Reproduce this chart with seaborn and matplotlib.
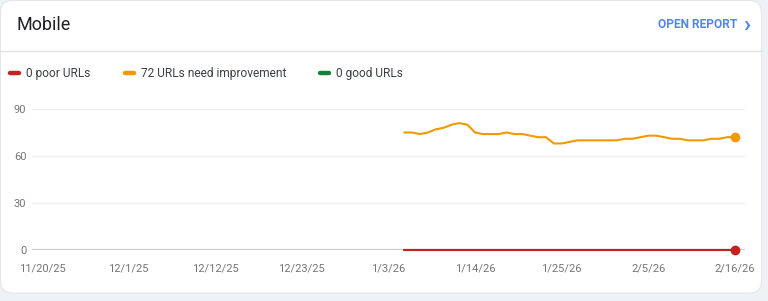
import numpy as np
import pandas as pd
import matplotlib
matplotlib.use("Agg")
import matplotlib.pyplot as plt
import matplotlib.dates as mdates
from matplotlib.patches import FancyBboxPatch
from matplotlib.lines import Line2D
import seaborn as sns

# ---- data ----
title = "Mobile"
link_text = "OPEN REPORT"
legend_labels = ["0 poor URLs", "72 URLs need improvement", "0 good URLs"]
dates = pd.date_range("2026-01-05", "2026-02-16", freq="D")
need_improvement = [75, 75, 74, 75, 77, 78, 80, 81, 80, 75,
                    74, 74, 74, 75, 74, 74, 73, 72, 72, 68,
                    68, 69, 70, 70, 70, 70, 70, 70, 71, 71,
                    72, 73, 73, 72, 71, 71, 70, 70, 70, 71,
                    71, 72, 72]
poor = [0, 0, 0, 0, 0, 0, 0, 0, 0, 0,
        0, 0, 0, 0, 0, 0, 0, 0, 0, 0,
        0, 0, 0, 0, 0, 0, 0, 0, 0, 0,
        0, 0, 0, 0, 0, 0, 0, 0, 0, 0,
        0, 0, 0]
good = [0, 0, 0, 0, 0, 0, 0, 0, 0, 0,
        0, 0, 0, 0, 0, 0, 0, 0, 0, 0,
        0, 0, 0, 0, 0, 0, 0, 0, 0, 0,
        0, 0, 0, 0, 0, 0, 0, 0, 0, 0,
        0, 0, 0]
tick_dates = ["2025-11-20", "2025-12-01", "2025-12-12", "2025-12-23",
              "2026-01-03", "2026-01-14", "2026-01-25", "2026-02-05", "2026-02-16"]
y_ticks = [0, 30, 60, 90]

# ---- style ----
sns.set_theme(style="white")
plt.rcParams["font.family"] = ["Roboto", "DejaVu Sans"]

RED = "#c5221f"
ORANGE = "#f29900"
GREEN = "#188038"
W, H = 768, 301

fig = plt.figure(figsize=(W / 100, H / 100), dpi=100)
fig.patch.set_facecolor("#eef1f6")

card = FancyBboxPatch((0.5, H - 293), 761, 292.5, boxstyle="round,pad=0,rounding_size=12",
                      transform=None, facecolor="white", edgecolor="#e3e6ea",
                      linewidth=0.8, zorder=-10)
fig.patches.append(card)

def fx(px):
    return px / W

def fy(py):
    return 1 - py / H

fig.text(fx(16), fy(25), title, fontsize=13, color="#202124", va="center", ha="left")
fig.text(fx(737), fy(25), link_text, fontsize=8.6, color="#4f86ec", va="center",
         ha="right", fontweight="bold")
fig.text(fx(747), fy(24.5), "\u203a", fontsize=17, color="#4f86ec", va="center",
         ha="center", fontweight="bold")
fig.add_artist(Line2D([0, fx(762)], [fy(51), fy(51)], color="#e2e2e2", lw=1.0))

# legend
leg_items = [(10, legend_labels[0], RED), (125, legend_labels[1], ORANGE),
             (320, legend_labels[2], GREEN)]
for x0, lab, col in leg_items:
    fig.add_artist(Line2D([fx(x0), fx(x0 + 9)], [fy(73), fy(73)], color=col, lw=3.2,
                          solid_capstyle="round"))
    fig.text(fx(x0 + 16), fy(73), lab, fontsize=8.6, color="#3c4043", va="center", ha="left")

# axes
ax = fig.add_axes([fx(32), fy(250), fx(745) - fx(32), fy(109) - fy(250)])
ax.set_facecolor("none")
ax.set_zorder(1)

df = pd.DataFrame({"date": dates, "need": need_improvement, "poor": poor, "good": good})
sns.lineplot(data=df, x="date", y="good", color=GREEN, lw=1.5, ax=ax, zorder=3)
sns.lineplot(data=df, x="date", y="need", color=ORANGE, lw=1.5, ax=ax, zorder=4)
sns.lineplot(data=df, x="date", y="poor", color=RED, lw=1.5, ax=ax, zorder=5)
ax.plot(df["date"].iloc[-1], df["need"].iloc[-1], "o", color=ORANGE, ms=6, zorder=6, clip_on=False)
ax.plot(df["date"].iloc[-1], df["poor"].iloc[-1], "o", color=RED, ms=6, zorder=6, clip_on=False)
for ln in ax.lines:
    ln.set_clip_on(False)

tds = pd.to_datetime(tick_dates)
ax.set_xlim(tds[0] - pd.Timedelta(hours=30.5), tds[-1] + pd.Timedelta(hours=30.5))
ax.set_ylim(0, 90)
ax.set_xticks(tds)
ax.set_xticklabels([f"{d.month}/{d.day}/{d.strftime('%y')}" for d in tds])
ax.set_yticks(y_ticks)
ax.set_yticklabels([str(v) for v in y_ticks])
ax.tick_params(axis="both", length=0, labelsize=8, labelcolor="#757575")
ax.tick_params(axis="x", pad=10)
ax.tick_params(axis="y", pad=4)
for v in y_ticks[1:]:
    ax.axhline(v, color="#f1f1f1", lw=1.0, zorder=1)
ax.axhline(0, color="#cccccc", lw=1.6, zorder=2)
for s in ax.spines.values():
    s.set_visible(False)
ax.set_xlabel("")
ax.set_ylabel("")

fig.savefig("out.png", dpi=100, facecolor=fig.get_facecolor())
